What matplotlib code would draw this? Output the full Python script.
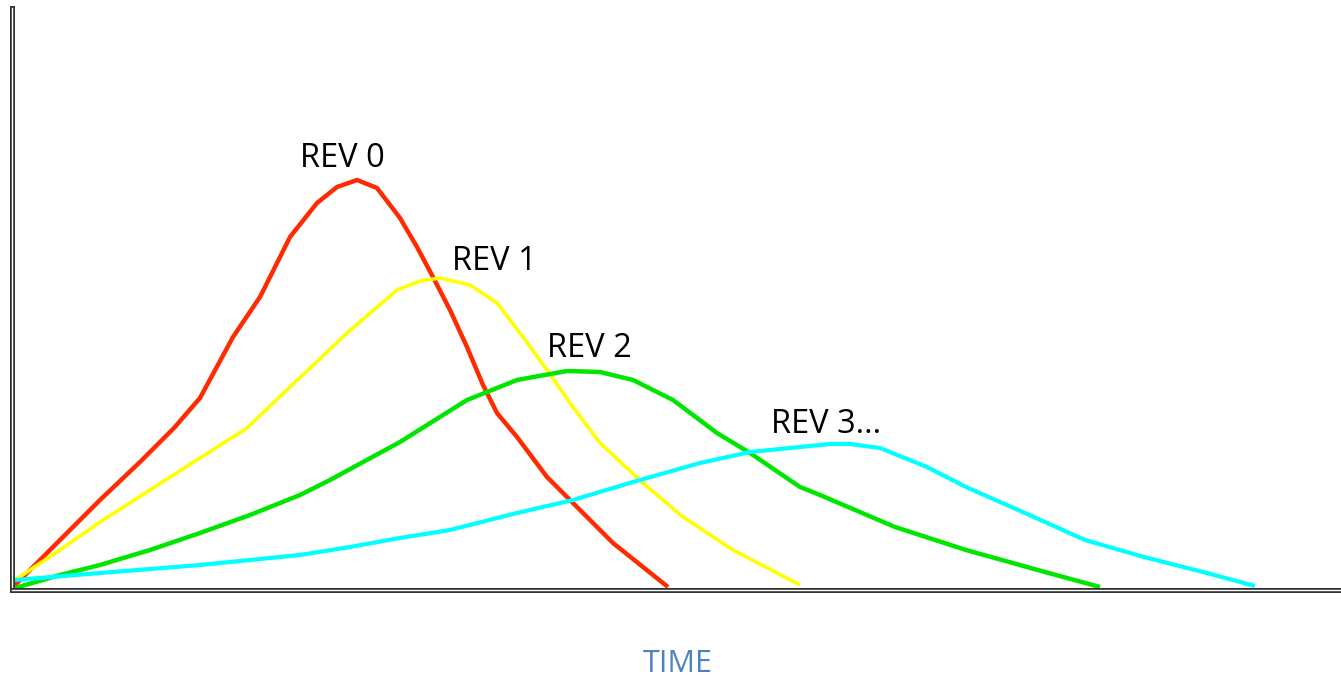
import matplotlib.pyplot as plt
from matplotlib.lines import Line2D

# curves: time (px from origin) vs amplitude (px above baseline)
rev0_t = [2, 48, 88, 128, 162, 188, 221, 248, 278, 305, 325, 345, 365, 388, 405, 421, 438, 455, 471, 485, 505, 535, 568, 601, 656]
rev0_y = [2, 48, 88, 126, 160, 190, 251, 291, 351, 385, 401, 408, 400, 370, 341, 311, 278, 241, 203, 175, 151, 111, 78, 45, 1]

rev1_t = [3, 48, 88, 138, 188, 235, 278, 335, 385, 408, 428, 458, 485, 511, 535, 558, 588, 631, 671, 721, 788]
rev1_y = [8, 38, 66, 98, 130, 160, 201, 255, 298, 307, 310, 303, 285, 251, 218, 185, 145, 105, 71, 38, 3]

rev2_t = [3, 48, 88, 138, 188, 238, 288, 318, 388, 455, 505, 555, 588, 621, 661, 705, 738, 788, 808, 883, 954, 1033, 1088]
rev2_y = [0, 13, 23, 38, 55, 73, 93, 108, 146, 188, 208, 217, 216, 208, 188, 155, 135, 101, 93, 61, 38, 16, 1]

rev3_t = [3, 88, 188, 288, 338, 388, 438, 505, 561, 621, 688, 738, 788, 818, 838, 868, 915, 954, 1013, 1073, 1132, 1191, 1243]
rev3_y = [8, 15, 23, 33, 41, 50, 58, 75, 88, 106, 125, 136, 141, 144, 144, 140, 121, 101, 75, 48, 31, 16, 2]

labels = ["REV 0", "REV 1", "REV 2", "REV 3..."]
label_pos = [(330, 421), (482, 318), (577, 231), (814, 155)]
colors = ["#ff2a00", "#ffff00", "#00e600", "#00ffff"]
widths = [3.2, 2.6, 3.2, 3.0]

fig = plt.figure(figsize=(13.41, 6.80), dpi=100)
ax = fig.add_axes([12 / 1341, 92 / 680, 1329 / 1341, 580 / 680])
ax.set_xlim(0, 1329)
ax.set_ylim(0, 580)
ax.axis("off")

series = [(rev0_t, rev0_y), (rev1_t, rev1_y), (rev2_t, rev2_y), (rev3_t, rev3_y)]
for (t, y), c, w in zip(series, colors, widths):
    ax.plot(t, y, color=c, lw=w, solid_capstyle="butt", solid_joinstyle="round", clip_on=False)

for txt, (x, y) in zip(labels, label_pos):
    ax.text(x, y, txt, ha="center", va="baseline", fontsize=23.5, family="Open Sans", color="black")

# double-line axes
W, H = 1341, 680
for xs, ys in [([11.5 / W, 11.5 / W], [1 - 8 / H, 1 - 590 / H]), ([11.5 / W, 1], [1 - 589.5 / H, 1 - 589.5 / H])]:
    fig.add_artist(Line2D(xs, ys, color="#333333", lw=3.6, transform=fig.transFigure))
    fig.add_artist(Line2D(xs, ys, color="white", lw=1.0, transform=fig.transFigure))

fig.text(678 / W, 1 - 672 / H, "TIME", ha="center", va="baseline", fontsize=22, family="Open Sans", color="#4f81bd")

fig.savefig("out.png", dpi=100)
